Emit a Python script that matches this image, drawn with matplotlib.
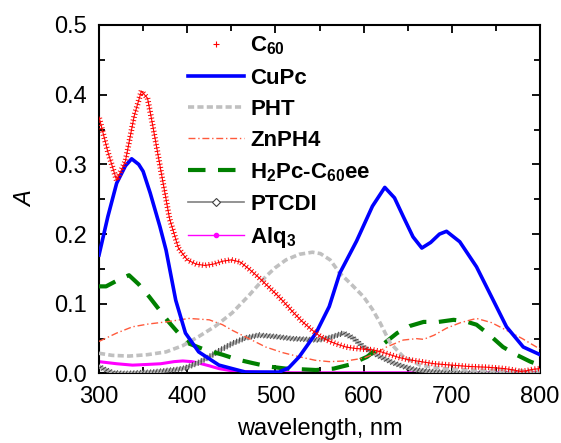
import numpy as np
import matplotlib
matplotlib.use('Agg')
import matplotlib.pyplot as plt
from matplotlib.lines import Line2D
from matplotlib.patheffects import TickedStroke, Normal

plt.rcParams['font.family'] = 'Liberation Sans'
plt.rcParams['mathtext.fontset'] = 'custom'
plt.rcParams['mathtext.rm'] = 'Liberation Sans:bold'
plt.rcParams['mathtext.default'] = 'rm'

# absorbance spectra (wavelength in nm, absorbance A)
c60_wl = [300, 310, 320, 330, 340, 348, 355, 360, 370, 380, 390, 400, 410, 420,
          430, 440, 450, 460, 470, 480, 490, 500, 510, 520, 530, 540, 550, 560,
          570, 580, 590, 600, 610, 620, 630, 640, 650, 660, 670, 680, 690, 700,
          720, 740, 760, 770, 778, 785, 792, 800]
c60_abs = [.368, .318, .277, .305, .370, .405, .395, .362, .292, .222, .180, .163,
           .157, .155, .157, .161, .163, .160, .150, .139, .127, .115, .102, .088,
           .075, .064, .054, .047, .042, .038, .036, .035, .034, .031, .027, .023,
           .020, .018, .016, .014, .013, .012, .010, .009, .007, .005, .003, .004,
           .006, .007]

cupc_wl = [300, 310, 320, 330, 337, 345, 350, 358, 369, 376, 387, 398, 413, 436,
           466, 504, 515, 527, 546, 561, 573, 592, 610, 624, 635, 645, 656, 666,
           676, 686, 694, 709, 728, 747, 762, 781, 800]
cupc_abs = [.170, .225, .273, .298, .308, .300, .290, .259, .211, .177, .105, .058,
            .031, .012, .002, .002, .008, .024, .058, .096, .144, .190, .240, .267,
            .252, .225, .196, .180, .188, .200, .204, .189, .153, .105, .067, .038,
            .027]

pht_wl = [300, 315, 334, 355, 376, 395, 413, 432, 451, 470, 489, 500, 512, 527,
          542, 551, 562, 573, 586, 600, 610, 619, 630, 645, 664, 690, 720, 760, 800]
pht_abs = [.029, .026, .025, .027, .031, .040, .053, .068, .087, .112, .139, .152,
           .163, .171, .174, .172, .163, .144, .128, .110, .092, .072, .044, .024,
           .012, .007, .005, .004, .004]

znph4_wl = [300, 320, 338, 356, 376, 402, 425, 440, 451, 470, 489, 508, 527, 545,
            561, 580, 600, 615, 626, 645, 660, 668, 680, 694, 710, 728, 745, 762,
            780, 796, 800]
znph4_abs = [.046, .058, .067, .071, .074, .079, .077, .070, .062, .050, .038, .030,
             .024, .019, .017, .018, .022, .030, .038, .048, .050, .049, .055, .065,
             .073, .079, .073, .062, .050, .038, .036]

h2pc_wl = [300, 308, 320, 334, 345, 357, 368, 379, 390, 402, 420, 440, 457, 474,
           492, 512, 530, 546, 566, 585, 604, 620, 638, 652, 668, 685, 702, 715,
           728, 743, 758, 773, 789, 800]
h2pc_abs = [.125, .125, .133, .141, .128, .110, .092, .074, .058, .043, .034, .027,
            .020, .015, .010, .007, .006, .005, .007, .013, .024, .040, .058, .068,
            .074, .074, .077, .075, .070, .055, .038, .027, .017, .012]

ptcdi_wl = [300, 308, 316, 330, 345, 360, 375, 390, 398, 412, 425, 438, 451, 466,
            481, 500, 519, 535, 549, 563, 577, 588, 600, 610, 619, 632, 645, 660,
            675, 700, 750, 800]
ptcdi_abs = [.010, .005, .001, .000, .001, .002, .004, .006, .008, .015, .024, .034,
             .043, .051, .055, .053, .050, .049, .048, .052, .058, .051, .038, .030,
             .024, .016, .010, .005, .003, .001, .000, .000]

alq3_wl = [300, 320, 338, 355, 370, 385, 395, 405, 413, 425, 436, 450, 463, 480,
           520, 600, 700, 800]
alq3_abs = [.017, .014, .012, .013, .014, .017, .018, .017, .015, .011, .007, .004,
            .003, .002, .001, .001, .001, .001]

labels = ['C$_{60}$', 'CuPc', 'PHT', 'ZnPH4', 'H$_{2}$Pc-C$_{60}$ee', 'PTCDI', 'Alq$_{3}$']

fig = plt.figure(figsize=(5.61, 4.43), dpi=100)
ax = fig.add_axes([0.1765, 0.1569, 0.7861, 0.7867])

ax.plot(alq3_wl, alq3_abs, color='#ff00ff', lw=2.2, zorder=2)
ax.plot(ptcdi_wl, ptcdi_abs, color='#b0b0b0', lw=2.8, zorder=3,
        path_effects=[Normal(),
                      TickedStroke(angle=60, spacing=2.4, length=0.8, linewidth=0.7,
                                   foreground='#484848'),
                      TickedStroke(angle=-120, spacing=2.4, length=0.8, linewidth=0.7,
                                   foreground='#484848')])
ax.plot(h2pc_wl, h2pc_abs, color='#008000', lw=3.0, dashes=(4.2, 3.0), zorder=4)
ax.plot(znph4_wl, znph4_abs, color='#ff5a3c', lw=1.0, dashes=(5, 2, 1, 2), zorder=5)
ax.plot(pht_wl, pht_abs, color='#c0c0c0', lw=2.6, dashes=(1.7, 0.9), zorder=6)
ax.plot(cupc_wl, cupc_abs, color='#0000ff', lw=2.6, zorder=7)
ax.plot(c60_wl, c60_abs, color='#ff0000', lw=0.8, zorder=8,
        path_effects=[Normal(),
                      TickedStroke(angle=90, spacing=2.4, length=0.7, linewidth=0.7,
                                   foreground='#ff0000'),
                      TickedStroke(angle=-90, spacing=2.4, length=0.7, linewidth=0.7,
                                   foreground='#ff0000')])

ax.set_xlim(300, 800)
ax.set_ylim(0, 0.5)
ax.set_xticks(np.arange(300, 801, 100))
ax.set_xticks(np.arange(300, 801, 50), minor=True)
ax.set_yticks(np.arange(0, 0.51, 0.1))
ax.set_yticks(np.arange(0, 0.51, 0.05), minor=True)
ax.tick_params(which='both', direction='in', top=True, right=True, width=1.3,
               labelsize=17, pad=9)
ax.tick_params(which='major', length=6)
ax.tick_params(which='minor', length=4.5)
for sp in ax.spines.values():
    sp.set_linewidth(1.5)

ax.set_xlabel('wavelength, nm', fontsize=17, labelpad=7)
ax.set_ylabel('A', fontsize=17, style='italic', labelpad=12)

# legend keys drawn as stand-alone handles
handles = [
    Line2D([], [], ls='none', marker='+', color='#ff0000', markersize=5, mew=0.8),
    Line2D([], [], color='#0000ff', lw=2.6),
    Line2D([], [], color='#c0c0c0', lw=2.6, dashes=(1.7, 0.9)),
    Line2D([], [], color='#ff5a3c', lw=1.0, dashes=(5, 2, 1, 2)),
    Line2D([], [], color='#008000', lw=3.0, dashes=(4.2, 3.0)),
    Line2D([], [], color='#808080', lw=1.2, marker='D', markersize=4,
           mfc='white', mec='#404040', mew=0.8),
    Line2D([], [], color='#ff00ff', lw=1.0, marker='o', markersize=3,
           mfc='#ff00ff', mec='#ff00ff'),
]
ax.legend(handles, labels, loc='upper left', bbox_to_anchor=(0.2018, 0.972),
          frameon=False, borderpad=0, borderaxespad=0, handlelength=2.5,
          handletextpad=0.3, labelspacing=0.46, numpoints=1,
          prop={'weight': 'bold', 'size': 16})

fig.savefig('out.png', dpi=100)
